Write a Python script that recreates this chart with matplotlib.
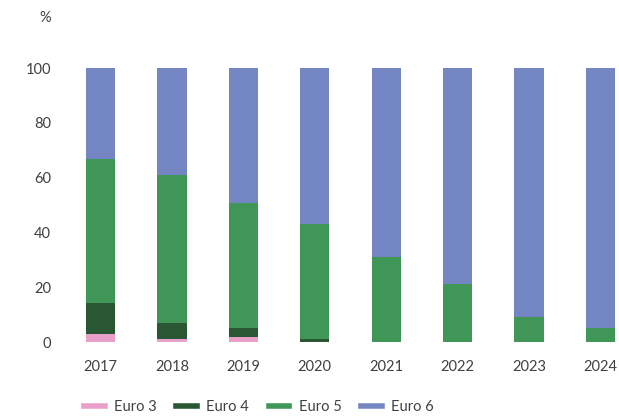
from matplotlib import pyplot as plt
from matplotlib.lines import Line2D
import numpy as np

plt.rcParams['font.family'] = ['Lato', 'DejaVu Sans']

years = ['2017', '2018', '2019', '2020', '2021', '2022', '2023', '2024']

# share of fleet, %
euro3 = [2.9, 1.1, 1.8, 0.0, 0.0, 0.0, 0.0, 0.0]
euro4 = [11.3, 5.8, 3.3, 1.1, 0.0, 0.0, 0.0, 0.0]
euro5 = [52.6, 54.1, 45.6, 42.0, 31.0, 21.2, 9.1, 5.1]
euro6 = [33.2, 39.0, 49.3, 56.9, 69.0, 78.8, 90.9, 94.9]

series = [euro3, euro4, euro5, euro6]
labels = ['Euro 3', 'Euro 4', 'Euro 5', 'Euro 6']
colors = ['#e8a0c8', '#295734', '#3f9656', '#7385c3']

fig = plt.figure(figsize=[6.19, 4.17], dpi=100)
W, H = 619, 417
ax = fig.add_axes([65 / W, (H - 342) / H, (619 - 65) / W, (342 - 68) / H])

x = np.arange(len(years))
bottom = np.zeros(len(years))
for vals, lab, col in zip(series, labels, colors):
    ax.bar(x, vals, width=0.41, bottom=bottom, color=col, label=lab)
    bottom += np.array(vals)

ax.set_xlim(-0.5, 7.5 - 17 / 71.4)
ax.set_ylim(0, 100)
ax.set_xticks(x)
ax.set_xticklabels(years)
ax.set_yticks([0, 20, 40, 60, 80, 100])
ax.tick_params(length=0, labelsize=10.5, colors='#404040')
ax.tick_params(axis='x', pad=13)
ax.tick_params(axis='y', pad=10)
for s in ax.spines.values():
    s.set_visible(False)

fig.text(45 / W, 1 - 18 / H, '%', fontsize=10.5, color='#404040', ha='center', va='center')

handles = [Line2D([0], [0], color=c, lw=4) for c in colors]
fig.legend(handles, labels, loc='center left', bbox_to_anchor=(71 / W, 1 - 407 / H),
           ncol=4, frameon=False, fontsize=10.5, handlelength=1.4,
           columnspacing=1.35, handletextpad=0.65, labelcolor='#404040')

plt.savefig('out.png')
